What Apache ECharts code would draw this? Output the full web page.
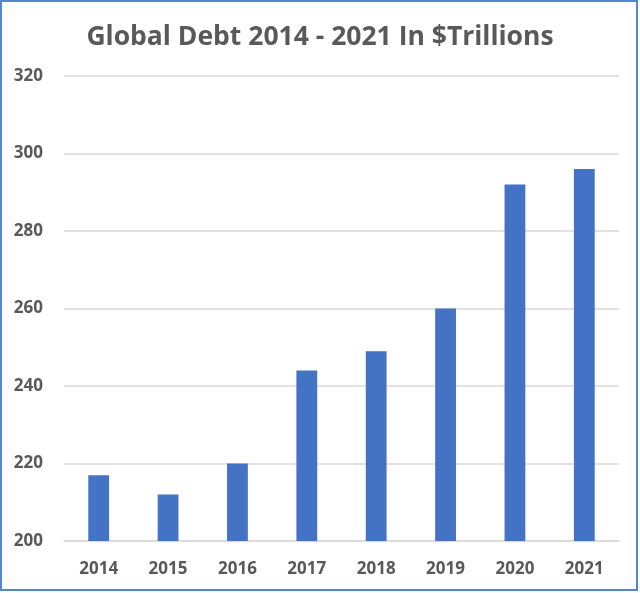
<!DOCTYPE html>
<html>
<head>
<meta charset="utf-8">
<script src="https://cdn.jsdelivr.net/npm/echarts@6/dist/echarts.min.js"></script>
<style>
html,body{margin:0;padding:0;background:#fff;}
#chart{width:640px;height:593px;}
</style>
</head>
<body>
<div id="chart"></div>
<script>
const title = 'Global Debt 2014 - 2021 In $Trillions';
const years = ['2014','2015','2016','2017','2018','2019','2020','2021'];
const debt = [217, 212, 220, 244, 249, 260, 292, 296];
const yMin = 200, yMax = 320, yStep = 20;

const chart = echarts.init(document.getElementById('chart'));
chart.setOption({
  backgroundColor: '#ffffff',
  animation: false,
  title: {
    text: title,
    left: 'center',
    top: 19,
    textStyle: {fontFamily: 'Open Sans', fontWeight: 'bold', fontSize: 26.5, color: '#595959'}
  },
  grid: {left: 64, right: 21, top: 76, bottom: 52},
  xAxis: {
    type: 'category',
    data: years,
    axisLine: {show: true, lineStyle: {color: '#D9D9D9', width: 1.5}},
    axisTick: {show: false},
    axisLabel: {margin: 20, fontFamily: 'Open Sans', fontWeight: 'bold', fontSize: 17, color: '#595959'}
  },
  yAxis: {
    type: 'value',
    min: yMin, max: yMax, interval: yStep,
    axisLine: {show: false},
    axisTick: {show: false},
    splitLine: {lineStyle: {color: '#D9D9D9', width: 1.5}},
    axisLabel: {margin: 21, fontFamily: 'Open Sans', fontWeight: 'bold', fontSize: 17, color: '#595959'}
  },
  series: [{
    type: 'bar',
    data: debt,
    barWidth: '30%',
    itemStyle: {color: '#4472C4'}
  }],
  graphic: [{
    type: 'rect',
    shape: {x: 1, y: 1, width: 636, height: 589},
    style: {fill: 'none', stroke: '#5584D4', lineWidth: 2},
    silent: true
  }]
});
</script>
</body>
</html>
